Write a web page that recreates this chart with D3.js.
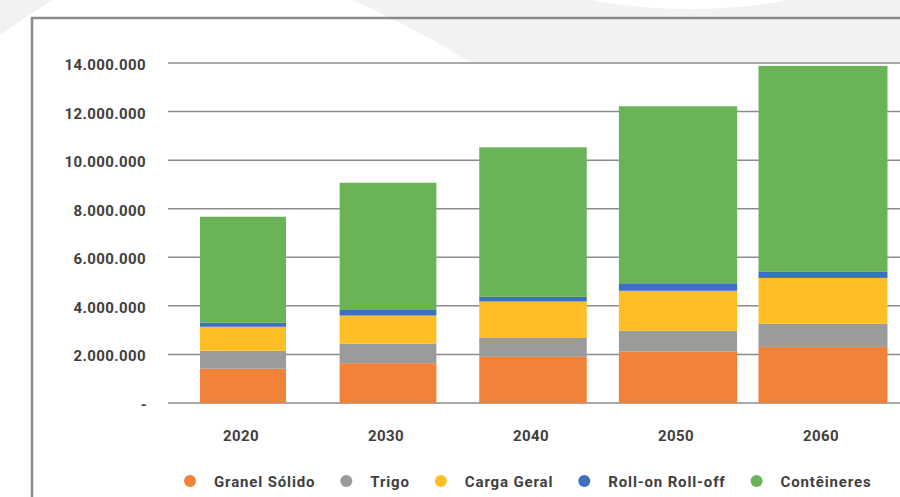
<!DOCTYPE html>
<html>
<head>
<meta charset="utf-8">
<script src="https://cdn.jsdelivr.net/npm/d3@7"></script>
<style>
  html, body { margin: 0; padding: 0; background: #f1f2f4; }
  text { font-family: Roboto, "DejaVu Sans", sans-serif; font-weight: bold; fill: #404040; }
</style>
</head>
<body>
<div id="chart"></div>
<script>
const width = 900;
const height = 497;

// data (toneladas)
const years = ["2020", "2030", "2040", "2050", "2060"];
const seriesNames = ["Granel Sólido", "Trigo", "Carga Geral", "Roll-on Roll-off", "Contêineres"];
const granelSolido = [1410000, 1640000, 1900000, 2120000, 2310000];
const trigo = [740000, 800000, 780000, 850000, 950000];
const cargaGeral = [990000, 1160000, 1500000, 1650000, 1890000];
const rollOnRollOff = [170000, 230000, 190000, 280000, 250000];
const conteineres = [4360000, 5240000, 6160000, 7320000, 8480000];
const yTicks = [0, 2000000, 4000000, 6000000, 8000000, 10000000, 12000000, 14000000];

const colors = ["#f0823a", "#9a9c9b", "#fdbe26", "#3e71bd", "#6bb357"];

const seriesValues = [granelSolido, trigo, cargaGeral, rollOnRollOff, conteineres];
const rows = years.map((y, i) => {
  const row = { year: y };
  seriesNames.forEach((s, j) => (row[s] = seriesValues[j][i]));
  return row;
});

const svg = d3.select("#chart").append("svg")
  .attr("width", width)
  .attr("height", height)
  .style("display", "block");

// background decoration
svg.append("rect").attr("width", width).attr("height", height).attr("fill", "#f1f2f4");
svg.append("path")
  .attr("d", "M0,35 C40,8 100,-40 190,-38 C300,-36 400,20 470,62 L900,62 L900,497 L0,497 Z")
  .attr("fill", "#ffffff");
svg.append("ellipse")
  .attr("cx", 690).attr("cy", -60).attr("rx", 200).attr("ry", 69)
  .attr("fill", "#ffffff");

// plot area
const plot = { left: 168, top: 63, right: 900, bottom: 403 };

svg.append("rect")
  .attr("x", plot.left).attr("y", plot.top)
  .attr("width", plot.right - plot.left).attr("height", plot.bottom - plot.top)
  .attr("fill", "#ffffff");

// chart border (runs past the right and bottom edges)
svg.append("rect")
  .attr("x", 32).attr("y", 18)
  .attr("width", 1000).attr("height", 600)
  .attr("fill", "none")
  .attr("stroke", "#8a8a8a")
  .attr("stroke-width", 2.5);

const x = d3.scaleBand().domain(years).range([170.5, 895.5]).padding(0);
const y = d3.scaleLinear().domain([0, 14000000]).range([plot.bottom, plot.top]);
// bars in the original get wider from left to right
const barWidth = d3.scaleLinear().domain([0, years.length - 1]).range([86, 129]);

const fmt = v => v === 0 ? "-" : d3.format(",")(v).replace(/,/g, ".");

// grid lines
svg.append("g")
  .selectAll("line")
  .data(yTicks)
  .join("line")
  .attr("x1", plot.left).attr("x2", plot.right)
  .attr("y1", d => y(d)).attr("y2", d => y(d))
  .attr("stroke", "#8c8c8c")
  .attr("stroke-width", 1.5);

// y labels
svg.append("g")
  .selectAll("text")
  .data(yTicks)
  .join("text")
  .attr("x", d => d === 0 ? 147 : 146)
  .attr("y", d => y(d) + 7)
  .attr("text-anchor", "end")
  .attr("font-size", 15)
  .attr("letter-spacing", 0.4)
  .text(fmt);

// stacked bars
const stacked = d3.stack().keys(seriesNames)(rows);

svg.append("g")
  .selectAll("g")
  .data(stacked)
  .join("g")
  .attr("fill", (d, i) => colors[i])
  .selectAll("rect")
  .data(d => d)
  .join("rect")
  .attr("x", (d, i) => x(d.data.year) + x.bandwidth() / 2 - barWidth(i) / 2)
  .attr("width", (d, i) => barWidth(i))
  .attr("y", d => y(d[1]))
  .attr("height", d => y(d[0]) - y(d[1]));

// x labels
svg.append("g")
  .selectAll("text")
  .data(years)
  .join("text")
  .attr("x", d => x(d) + x.bandwidth() / 2 - 2)
  .attr("y", 441)
  .attr("text-anchor", "middle")
  .attr("font-size", 15)
  .attr("letter-spacing", 0.4)
  .text(d => d);

// legend
const legend = svg.append("g");
let lx = 190;
seriesNames.forEach((name, i) => {
  legend.append("circle")
    .attr("cx", lx).attr("cy", 481).attr("r", 6)
    .attr("fill", colors[i]);
  const t = legend.append("text")
    .attr("x", lx + 24).attr("y", 487)
    .attr("font-size", 15)
    .attr("letter-spacing", 0.85)
    .text(name);
  lx += 24 + t.node().getComputedTextLength() + 31;
});
</script>
</body>
</html>
